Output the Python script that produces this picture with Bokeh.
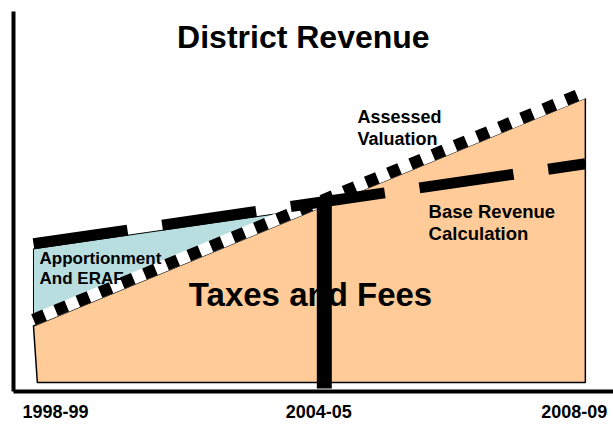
from bokeh.plotting import figure
from bokeh.models import Range1d, LinearAxis, FixedTicker
from bokeh.core.properties import value
from bokeh.embed import file_html
from bokeh.resources import INLINE

# ---- data (schematic units: x = position along timeline 0..100, y = revenue level) ----
year_labels = ["1998-99", "2004-05", "2008-09"]
year_pos = [4.0, 51.7, 98.0]

timeline = [0, 100]
assessed_valuation = [23.8, 99.3]      # checkered line
base_revenue = [49.0, 75.5]            # heavy dashed line
taxes_x = [0, 100, 100, 0.7]
taxes_y = [21.7, 97.3, 3.0, 3.0]       # "Taxes and Fees" area
apport_x = [0, 50, 0]
apport_y = [47.3, 60.5, 25.7]          # "Apportionment And ERAF" area
base_year_x = [52.7]
base_year_low = [1.0]
base_year_high = [63.0]

FONT_NAME = "Liberation Sans"
FONT = value(FONT_NAME)

p = figure(width=613, height=420, output_backend="svg", toolbar_location=None,
           x_range=Range1d(-3.62, 105.1), y_range=Range1d(0, 126),
           x_axis_location=None, y_axis_location=None,
           min_border_left=13, min_border_right=0, min_border_top=11, min_border_bottom=0)
p.outline_line_color = None
p.xgrid.visible = False
p.ygrid.visible = False
p.background_fill_color = "white"

# axes
xax = LinearAxis(ticker=FixedTicker(ticks=year_pos),
                 major_label_overrides={pos: lab for pos, lab in zip(year_pos, year_labels)},
                 axis_line_width=4, axis_line_color="black",
                 major_tick_in=0, major_tick_out=0, minor_tick_in=0, minor_tick_out=0,
                 major_label_standoff=13,
                 major_label_text_font=FONT_NAME, major_label_text_font_style="bold",
                 major_label_text_font_size="18px", major_label_text_color="black")
p.add_layout(xax, "below")
yax = LinearAxis(ticker=FixedTicker(ticks=[]), axis_line_width=4, axis_line_color="black",
                 major_tick_in=0, major_tick_out=0, minor_tick_in=0, minor_tick_out=0,
                 major_label_standoff=0)
p.add_layout(yax, "left")

# areas
p.patch(taxes_x, taxes_y, fill_color="#FFCC99", line_color="black", line_width=1.5)
p.patch(apport_x, apport_y, fill_color="#B8DEDF", line_color="black", line_width=1)

# assessed valuation checkered line
p.line(timeline, assessed_valuation, line_color="white", line_width=12)
p.line(timeline, assessed_valuation, line_color="black", line_width=12,
       line_dash="12 12", line_cap="butt")

# base revenue calculation dashed line
p.line(timeline, base_revenue, line_color="black", line_width=11,
       line_dash="95 35", line_cap="butt")

# base year bar
p.segment(x0=base_year_x, y0=base_year_low, x1=base_year_x, y1=base_year_high,
          line_color="black", line_width=15, line_cap="butt")

# texts
p.text(x=[48.9], y=[117.7], text=["District Revenue"], text_font=FONT,
       text_font_style="bold", text_font_size="32px", text_align="center",
       text_baseline="middle", text_color="black")
p.text(x=[50.2], y=[32.2], text=["Taxes and Fees"], text_font=FONT,
       text_font_style="bold", text_font_size="33px", text_align="center",
       text_baseline="middle", text_color="black")
p.text(x=[58.7], y=[87.3], text=["Assessed\nValuation"], text_font=FONT,
       text_font_style="bold", text_font_size="18px", text_align="left",
       text_baseline="middle", text_line_height=1.1, text_color="black")
p.text(x=[71.6], y=[56.0], text=["Base Revenue\nCalculation"], text_font=FONT,
       text_font_style="bold", text_font_size="18.5px", text_align="left",
       text_baseline="middle", text_line_height=1.05, text_color="black")
p.text(x=[1.1], y=[40.7], text=["Apportionment\nAnd ERAF"], text_font=FONT,
       text_font_style="bold", text_font_size="17px", text_align="left",
       text_baseline="middle", text_line_height=1.05, text_color="black")

open("out.html", "w").write(file_html(p, INLINE))
